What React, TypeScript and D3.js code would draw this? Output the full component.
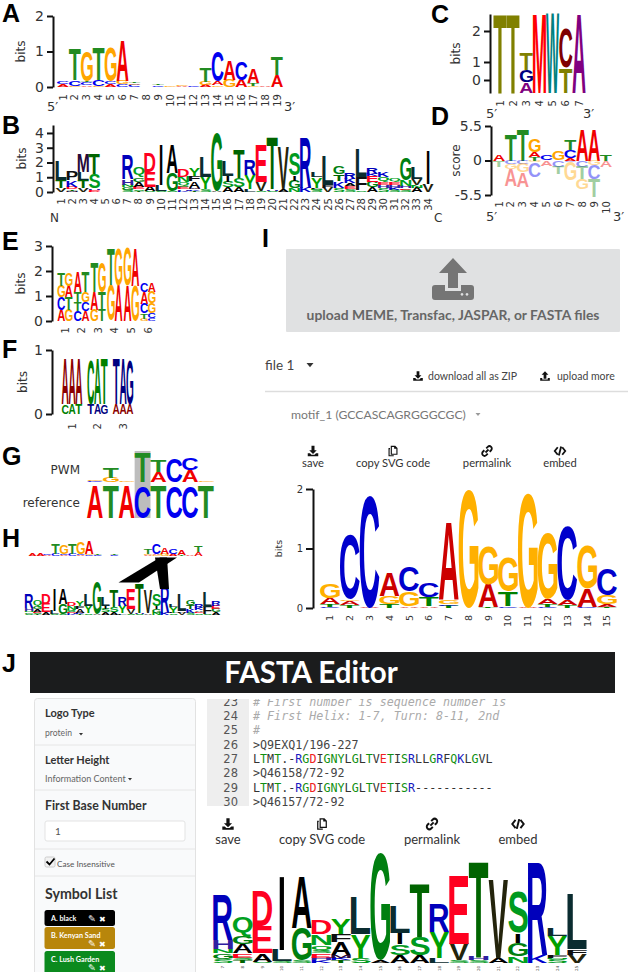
import React, { useEffect, useRef } from 'react';
import * as d3 from 'd3';

// stacks are written bottom to top as "symbol:height"
const logoA = ['A:.07 C:.07', 'G:.04 C:.16 T:.87', 'A:.05 C:.08 T:.03 G:.84', 'G:.03 C:.17 T:.92', 'A:.08 C:.07 G:.97', 'C:.07 G:.09 A:1.12', 'C:.06 G:.04 T:.05', '', 'C:.05 T:.05', 'G:.03', 'A:.03 G:.03', 'C:.02', 'A:.06 G:.09 T:.4', 'G:.05 A:.12 C:.86', 'G:.2 A:.55', 'A:.2 C:.5', 'G:.04 T:.07 A:.39', 'A:.05', 'A:.33 T:.5'];
const logoB = ['V:.25 T:.55 L:1.3', 'M:.1 T:.12 D:.13 K:.45 P:.65', 'V:.25 T:.55 L:.55 M:1.25', 'D:.1 E:.05 H:.1 S:1.0 T:1.4', '', '', 'S:.15 G:.2 N:.15 H:.35 R:1.65', 'T:.1 S:.1 E:.15 A:.35 G:.3 Q:.7', 'S:.05 A:.3 E:1.0 D:1.25', 'S:.08 L:.4 I:2.7', 'S:.08 G:1.2 A:1.9', 'K:.1 H:.1 E:.15 S:.1 Q:.2 N:.4 D:.5', 'T:.1 K:.1 M:.1 A:.47 F:.3 Y:.55', 'S:.2 Y:.85 L:1.35', 'A:.1 G:3.9', 'A:.3 S:.4 I:.4 L:1.0', 'A:.3 S:.65 T:1.95', 'L:.2 Y:.95 R:1.05', 'S:.1 V:.6 E:2.5', 'S:.1 H:.12 T:3.55', 'A:.2 V:2.85', 'N:.25 G:.5 I:.35 S:1.5', 'K:.3 R:3.4', 'S:.15 N:.05 F:.1 Y:.7 L:.3', 'V:.3 F:.2 L:2.0', 'S:.3 K:.45 T:.45 G:.55', 'S:.2 E:.2 A:.2 K:.3 R:.4', 'S:.1 F:.9 L:1.9', 'A:.3 G:.4 E:.4 K:.15 R:.45', 'S:.3 H:.2 E:.2 Q:.3 K:.35', 'S:.15 K:.15 H:.2 E:.2 Q:.2', 'S:.15 E:.1 H:.15 N:.4 G:1.5', 'A:.3 N:.15 V:.45 L:.8', 'V:.55 I:2.25'];
const logoC = ['T:3.3', 'T:3.3', 'A:.45 G:.5 T:.7', 'M:3.3', 'W:3.3', 'T:1.05 C:1.65', 'A:3.3'];
const logoDUp = ['A:1.0', 'T:4.2', 'T:5', 'T:.5 A:.9 G:2', 'C:.9', 'G:1.4', 'A:.4 C:1.3 T:1.7', 'A:5', 'A:5', 'T:1.0'];
const logoDDown = ['T:1.1', 'C:.6 G:.8 A:2.6', 'C:.5 G:1.4 A:2.3', 'G:.3 C:2.3', 'A:.9', 'C:1.0 T:1.2', 'C:.2 G:2.9', 'C:1.0 T:2.0 G:1.6', 'G:.8 C:2.2 T:2.8', 'A:1.1'];
const logoE = ['AG:.45 CT:.5 GA:.45 TG:.5', 'CA:.4 TC:.35 TG:.4 AT:.85', 'GT:.45 AT:.7 TG:1.2', 'GA:1.43 TG:1.47', 'AG:1.4 GA:1.5', 'GC:.1 TC:.2 CG:.4 AG:.45 CA:.35'];
const logoF = ['CAT:.15 AAA:.7', 'TAG:.15 CAT:.7', 'AAA:.15 TAG:.7'];
const logoPwm = ['C:.03 G:.03', 'G:.14 T:.33', 'G:.03', 'T:.95', 'A:.3 T:.37', 'C:.74', 'A:.37 C:.37', 'G:.03'];
const logoRef = ['A', 'T', 'A', 'C', 'T', 'C', 'C', 'T'];
const logoI = ['C:.02 T:.04 A:.11 G:.25', 'T:.05 A:.07 G:.03 C:1.09', 'A:.01 C:1.89', 'T:.07 G:.13 A:.38', 'A:.03 G:.25 C:.42', 'A:.03 T:.15 C:.25', 'T:.03 C:.03 G:.07 A:1.3', 'G:2.0', 'T:.01 A:.39 G:.63', 'C:.03 T:.24 G:.58', 'A:.01 G:1.92', 'C:.02 T:.05 A:.08 G:1.11', 'T:.05 A:.09 C:1.24', 'C:.01 A:.31 G:.74', 'T:.02 A:.04 G:.16 C:.44'];
const extraH = ['A:.25', 'A:.25'];

const numbers = (n: number, from = 1) => d3.range(from, from + n).map(String);

const commentLines = ['# First number is sequence number is', '# First Helix: 1-7, Turn: 8-11, 2nd', '#'];
const headerLines = ['>Q9EXQ1/196-227', '>Q46158/72-92', '>Q46157/72-92'];
const seqLines = ['LTMT.-RGDIGNYLGLTVETISRLLGRFQKLGVL', 'LTMT.-RGDIGNYLGLTVETISR-----------'];
const uiIcons = ['save', 'copy SVG code', 'permalink', 'embed'];
const symbolList = ['A. black', 'B. Kenyan Sand', 'C. Lush Garden'];

const dna: Record<string, string> = { A: '#f00000', C: '#0000f0', G: '#ffa500', T: '#228b22' };
const iColors: Record<string, string> = { A: '#cc0000', C: '#0000cc', G: '#ffb000', T: '#008000' };
const cColors: Record<string, string> = { T: '#808000', A: '#800080', G: '#000080', M: '#ff0000', W: '#008080', C: '#800000' };
const fColors: Record<string, string> = { AAA: '#8b0000', CAT: '#008000', TAG: '#000080' };
const protein: Record<string, string> = {
  A: '#000000', I: '#000000', L: '#0a2c30', V: '#24240c', M: '#280a3a', F: '#101010', P: '#101010', T: '#006400',
  G: '#007f10', S: '#009a1e', N: '#00a020', Q: '#00a020', Y: '#00a000', R: '#0000bb', K: '#0000cc', H: '#3020a0',
  D: '#ff0020', E: '#ff0020', C: '#008000', W: '#000000',
};

const ctx = document.createElement('canvas').getContext('2d')!;
const LOGO_FONT = 'Liberation Sans';
const TEXT_FONT = 'DejaVu Sans';
const UI_FONT = 'Lato';

type Sel = d3.Selection<any, unknown, null, undefined>;

const parseStack = (s: string) =>
  s.split(' ').filter(Boolean).map(p => {
    const [sym, h] = p.split(':');
    return { sym, h: +h };
  });

// puts one glyph into a box by using its ink bounds
function glyph(g: Sel, ch: string, x: number, y: number, w: number, h: number, fill: string, opacity = 1) {
  if (h <= 0 || w <= 0) return;
  ctx.font = `bold 100px "${LOGO_FONT}"`;
  const m = ctx.measureText(ch);
  const left = -m.actualBoundingBoxLeft;
  const inkW = m.actualBoundingBoxRight + m.actualBoundingBoxLeft;
  const inkH = m.actualBoundingBoxAscent + m.actualBoundingBoxDescent;
  // an I is only a bar, so it must not fill the whole column
  const bw = ch === 'I' ? w * 0.24 : w;
  const bx = x + (w - bw) / 2;
  g.append('text')
    .attr('transform', `translate(${bx},${y}) scale(${bw / inkW},${h / inkH}) translate(${-left},${m.actualBoundingBoxAscent})`)
    .attr('font-family', LOGO_FONT)
    .attr('font-weight', 'bold')
    .attr('font-size', 100)
    .attr('fill', fill)
    .attr('opacity', opacity)
    .text(ch);
}

function drawStacks(
  g: Sel,
  stacks: string[],
  keys: string[],
  x: d3.ScaleBand<string>,
  y: d3.ScaleLinear<number, number>,
  colors: Record<string, string>,
  opts: { frac?: number; sign?: number; opacity?: number } = {}
) {
  const { frac = 1, sign = 1, opacity = 1 } = opts;
  stacks.forEach((s, i) => {
    let acc = 0;
    const bw = x.bandwidth() * frac;
    const left = (x(keys[i]) ?? 0) + (x.bandwidth() - bw) / 2;
    parseStack(s).forEach(({ sym, h }) => {
      const a = y(sign * acc);
      const b = y(sign * (acc + h));
      const cw = bw / sym.length;
      sym.split('').forEach((c, k) => {
        glyph(g, c, left + k * cw, Math.min(a, b), cw, Math.abs(a - b), colors[sym] ?? colors[c], opacity);
      });
      acc += h;
    });
  });
}

function label(g: Sel, t: string, x: number, y: number, o: any = {}) {
  return g.append('text')
    .attr('x', x)
    .attr('y', y)
    .attr('font-family', o.family ?? TEXT_FONT)
    .attr('font-size', o.size ?? 12)
    .attr('font-weight', o.weight ?? 'normal')
    .attr('font-style', o.italic ? 'italic' : 'normal')
    .attr('text-anchor', o.anchor ?? 'start')
    .attr('fill', o.fill ?? '#333')
    .text(t);
}

function yAxis(g: Sel, y: d3.ScaleLinear<number, number>, axisX: number, ticks: number[], name: string, nameX: number, o: any = {}) {
  const ax = g.append('g').attr('transform', `translate(${axisX},0)`)
    .call(d3.axisLeft(y).tickValues(ticks).tickFormat(o.format ?? (d3.format('d') as any)).tickSize(o.tick ?? 6).tickSizeOuter(0));
  ax.select('.domain').attr('stroke', '#111').attr('stroke-width', 2);
  ax.selectAll('line').attr('stroke', '#111').attr('stroke-width', 2);
  ax.selectAll('text').attr('font-family', TEXT_FONT).attr('font-size', o.size ?? 14).attr('fill', '#333');
  const [lo, hi] = d3.extent(y.range()) as [number, number];
  const cy = (lo + hi) / 2;
  label(g, name, nameX, cy, { size: o.nameSize ?? 12, anchor: 'middle' })
    .attr('transform', `rotate(-90,${nameX},${cy})`);
}

function xTicks(g: Sel, x: d3.ScaleBand<string>, top: number, size = 10) {
  x.domain().forEach(k => {
    const cx = (x(k) ?? 0) + x.bandwidth() / 2;
    label(g, k, cx + size * 0.36, top, { size, anchor: 'end', fill: '#333' })
      .attr('transform', `rotate(-90,${cx + size * 0.36},${top})`);
  });
}

const band = (keys: string[], first: number, last: number) => {
  const step = (last - first) / (keys.length - 1);
  return d3.scaleBand<string>().domain(keys).range([first - step / 2, last + step / 2]);
};

const ICONS: Record<string, string> = {
  save: 'M6 1h4v6h3l-5 5-5-5h3z M1 11h3l2 2h4l2-2h3v4H1z',
  up: 'M8 1l5 5h-3v6H6V6H3z M1 11h3v2h8v-2h3v4H1z',
  copy: 'M5 1h6l3 3v9H5z M6.5 2.5v9h6V5h-3V2.5z M2 4h2v1.5H3.5v8H9V15H2z',
  link: 'M6 10l4-4 M7 4.5l2-2a3 3 0 0 1 4.5 4.5l-2 2 M9 11.5l-2 2a3 3 0 0 1-4.5-4.5l2-2',
  code: 'M5 3L1 8l4 5 M11 3l4 5-4 5 M9.5 2l-3 12',
};

function icon(g: Sel, name: string, cx: number, cy: number, size: number, fill = '#111') {
  const s = size / 16;
  const p = g.append('path')
    .attr('transform', `translate(${cx - size / 2},${cy - size / 2}) scale(${s})`)
    .attr('d', ICONS[name]);
  if (name === 'link' || name === 'code') {
    p.attr('fill', 'none').attr('stroke', fill).attr('stroke-width', 2.4);
  } else {
    p.attr('fill', fill).attr('fill-rule', 'evenodd');
  }
}

function caret(g: Sel, x: number, y: number, w: number, fill = '#333') {
  g.append('path').attr('d', `M${x - w / 2} ${y}h${w}l${-w / 2} ${w * 0.6}z`).attr('fill', fill);
}

function iconRow(g: Sel, centers: number[], iconY: number, textY: number, iconSize: number, size: number) {
  const names = ['save', 'copy', 'link', 'code'];
  uiIcons.forEach((t, i) => {
    icon(g, names[i], centers[i], iconY, iconSize);
    label(g, t, centers[i], textY, { size, anchor: 'middle', family: UI_FONT });
  });
}

const App: React.FC = () => {
  const svgRef = useRef<SVGSVGElement>(null);

  useEffect(() => {
    if (!svgRef.current) return;
    const svg = d3.select(svgRef.current);
    svg.selectAll('*').remove();
    const g: Sel = svg.append('g');

    // panel tags
    const tags: [string, number, number][] = [['A', 2, 22], ['B', 2, 134], ['C', 431, 23], ['D', 431, 125], ['E', 2, 250], ['F', 2, 358], ['G', 2, 465], ['H', 2, 547], ['I', 262, 247], ['J', 2, 672]];
    tags.forEach(([t, x, y]) => label(g, t, x, y, { size: 25, weight: 'bold', family: 'Liberation Sans', fill: '#000' }));

    // A
    const aKeys = numbers(19);
    const ax = band(aKeys, 63, 277);
    const ay = d3.scaleLinear().domain([0, 2]).range([87, 16]);
    yAxis(g, ay, 53, [0, 1, 2], 'bits', 25);
    drawStacks(g, logoA, aKeys, ax, ay, dna);
    xTicks(g, ax, 94);
    label(g, '5′', 47, 111, { size: 13 });
    label(g, '3′', 284, 111, { size: 13 });

    // B
    const bKeys = numbers(34);
    const bx = band(bKeys, 61, 428);
    const by = d3.scaleLinear().domain([0, 4.54]).range([192, 125]);
    yAxis(g, by, 53, [0, 1, 2, 3, 4], 'bits', 26);
    drawStacks(g, logoB, bKeys, bx, by, protein);
    xTicks(g, bx, 198);
    label(g, 'N', 50, 222, { size: 12 });
    label(g, 'C', 434, 222, { size: 12 });

    // C, the ticks are not evenly spaced in the original
    const cKeys = numbers(7);
    const cx = band(cKeys, 500, 579);
    const cy = d3.scaleLinear().domain([-0.72, 0, 1, 2, 2.58]).range([93, 80, 62, 31, 14]);
    yAxis(g, cy, 490, [0, 1, 2], 'bits', 460);
    const cyStack = d3.scaleLinear().domain([0, 3.3]).range([93, 14]);
    drawStacks(g, logoC, cKeys, cx, cyStack, cColors);
    xTicks(g, cx, 100);
    label(g, '5′', 486, 118, { size: 13 });
    label(g, '3′', 583, 118, { size: 13 });

    // D
    const dKeys = numbers(10);
    const dx = band(dKeys, 499, 606);
    const dy = d3.scaleLinear().domain([-5.5, 5.5]).range([195, 126]);
    yAxis(g, dy, 491, [-5.5, 0, 5.5], 'score', 460, { format: (v: number) => String(v) });
    drawStacks(g, logoDUp, dKeys, dx, dy, dna);
    drawStacks(g, logoDDown, dKeys, dx, dy, dna, { sign: -1, opacity: 0.42 });
    xTicks(g, dx, 201);
    label(g, '5′', 486, 221, { size: 13 });
    label(g, '3′', 613, 221, { size: 13 });

    // E
    const eKeys = numbers(6);
    const ex = band(eKeys, 65, 148);
    const ey = d3.scaleLinear().domain([0, 3]).range([321, 246]);
    yAxis(g, ey, 52, [0, 1, 2, 3], 'bits', 25);
    drawStacks(g, logoE, eKeys, ex, ey, dna, { frac: 0.92 });
    xTicks(g, ex, 327);

    // F
    const fKeys = numbers(3);
    const fx = band(fKeys, 72, 123);
    const fy = d3.scaleLinear().domain([0, 1]).range([414, 350]);
    yAxis(g, fy, 52, [0, 1], 'bits', 27);
    drawStacks(g, logoF, fKeys, fx, fy, fColors, { frac: 0.8 });
    xTicks(g, fx, 423);

    // G
    const gKeys = numbers(8);
    const gx = band(gKeys, 95, 206);
    g.append('rect').attr('x', gx('4')!).attr('y', 451).attr('width', gx.bandwidth()).attr('height', 67).attr('fill', '#bdbdbd');
    const gyTop = d3.scaleLinear().domain([0, 1]).range([482, 450]);
    const gyRef = d3.scaleLinear().domain([0, 1]).range([518, 486]);
    drawStacks(g, logoPwm, gKeys, gx, gyTop, dna);
    drawStacks(g, logoRef.map(c => `${c}:1`), gKeys, gx, gyRef, dna);
    label(g, 'PWM', 80, 474, { size: 12, anchor: 'end' });
    label(g, 'reference', 80, 507, { size: 12, anchor: 'end' });

    // H, re-uses the logos from A and B
    const hTopY = d3.scaleLinear().domain([0, 1.3]).range([556, 541]);
    const hTopX = d3.scaleBand<string>().domain(aKeys).range([43, 43 + 19 * 8.4]);
    const hExtra = d3.scaleBand<string>().domain(['x0', 'x1']).range([28.5, 44.5]);
    drawStacks(g, extraH, hExtra.domain(), hExtra, hTopY, dna);
    drawStacks(g, logoA, aKeys, hTopX, hTopY, dna);
    const hBotKeys = d3.range(7, 30).map(String);
    const hBot = band(hBotKeys, 29, 216);
    const hBotY = d3.scaleLinear().domain([0, 4]).range([615, 582]);
    drawStacks(g, logoB.slice(6, 29), hBotKeys, hBot, hBotY, protein);
    ['M118.5 582.5 L139 582.5 L177 557.5 L160 557.5 Z', 'M155 557.5 L167 557.5 L169 589 L160 589 Z'].forEach(d =>
      g.append('path').attr('d', d).attr('fill', '#000'));

    // I
    g.append('rect').attr('x', 286).attr('y', 249).attr('width', 334).attr('height', 83).attr('fill', '#e0e1e2').attr('rx', 1);
    g.append('path')
      .attr('transform', 'translate(432,258)')
      .attr('fill', '#757575')
      .attr('fill-rule', 'evenodd')
      .attr('d', 'M21 0 L35 15 H26 V30 H16 V15 H7 Z M0 30 Q0 27 3 27 H13 V33 H29 V27 H39 Q42 27 42 30 V39 Q42 42 39 42 H3 Q0 42 0 39 Z M30 35 a1.4 1.4 0 1 0 .01 0 M35 35 a1.4 1.4 0 1 0 .01 0');
    label(g, 'upload MEME, Transfac, JASPAR, or FASTA files', 453, 320, { size: 13.85, anchor: 'middle', family: UI_FONT, fill: '#666', weight: 'bold' });
    label(g, 'file 1', 265, 370, { size: 13.5, family: UI_FONT, fill: '#444' });
    caret(g, 310, 363, 7);
    icon(g, 'save', 418, 376, 11);
    label(g, 'download all as ZIP', 428, 380, { size: 10.5, family: UI_FONT, fill: '#444' });
    icon(g, 'up', 545, 376, 11);
    label(g, 'upload more', 557, 380, { size: 10.5, family: UI_FONT, fill: '#444' });
    g.append('line').attr('x1', 265).attr('x2', 628).attr('y1', 391.5).attr('y2', 391.5).attr('stroke', '#ddd').attr('stroke-width', 1.5);
    label(g, 'motif_1 (GCCASCAGRGGGCGC)', 291, 419, { size: 12.2, family: UI_FONT, fill: '#777' });
    caret(g, 478, 413, 5, '#999');
    iconRow(g, [313, 393, 487, 560], 451, 467, 12, 11.2);

    const iKeys = numbers(15);
    const ix = band(iKeys, 330, 607);
    const iy = d3.scaleLinear().domain([0, 2]).range([608, 489]);
    yAxis(g, iy, 313, [0, 1, 2], 'bits', 282, { size: 10, nameSize: 9.5, tick: 7 });
    drawStacks(g, logoI, iKeys, ix, iy, iColors);
    xTicks(g, ix, 615, 9.5);

    // J
    g.append('rect').attr('x', 30).attr('y', 652).attr('width', 585).attr('height', 41).attr('fill', '#1b1c1d');
    label(g, 'FASTA Editor', 311, 683, { size: 29.5, weight: 'bold', family: UI_FONT, fill: '#fff', anchor: 'middle' });

    g.append('rect').attr('x', 34.5).attr('y', 698.5).attr('width', 161).attr('height', 290).attr('rx', 3).attr('fill', '#f9fafb').attr('stroke', '#e2e2e2');
    [745, 790, 849, 876].forEach(y => g.append('line').attr('x1', 35).attr('x2', 195).attr('y1', y).attr('y2', y).attr('stroke', '#e6e6e6'));
    label(g, 'Logo Type', 45, 717, { size: 11, weight: 'bold', family: UI_FONT, fill: '#333' });
    label(g, 'protein', 45, 736, { size: 8.6, family: UI_FONT, fill: '#666' });
    caret(g, 81, 733, 4);
    label(g, 'Letter Height', 45, 764, { size: 11, weight: 'bold', family: UI_FONT, fill: '#333' });
    label(g, 'Information Content', 45, 782, { size: 9, family: UI_FONT, fill: '#666' });
    caret(g, 130, 778, 4);
    label(g, 'First Base Number', 45, 810, { size: 12.3, weight: 'bold', family: UI_FONT, fill: '#333' });
    g.append('rect').attr('x', 45).attr('y', 821).attr('width', 140).attr('height', 20).attr('rx', 2).attr('fill', '#fff').attr('stroke', '#e3e3e3');
    label(g, '1', 55, 835, { size: 10, family: UI_FONT, fill: '#555' });
    g.append('rect').attr('x', 45).attr('y', 857).attr('width', 10).attr('height', 10).attr('rx', 1.5).attr('fill', '#f2f2f2').attr('stroke', '#ccc');
    g.append('path').attr('d', 'M46.5 861.5l3 3 5-6').attr('fill', 'none').attr('stroke', '#000').attr('stroke-width', 1.8);
    label(g, 'Case Insensitive', 57, 867, { size: 8.2, family: UI_FONT, fill: '#555' });
    label(g, 'Symbol List', 45, 899, { size: 14.2, weight: 'bold', family: UI_FONT, fill: '#333' });

    const pills = [{ y: 910, h: 16, c: '#000' }, { y: 927, h: 22, c: '#b8860b' }, { y: 951, h: 25, c: '#0b8a1e' }];
    pills.forEach((p, i) => {
      g.append('rect').attr('x', 44.5).attr('y', p.y).attr('width', 70.5).attr('height', p.h).attr('rx', 2.5).attr('fill', p.c);
      label(g, symbolList[i], 51, p.y + 11, { size: 7.2, weight: 'bold', family: UI_FONT, fill: '#fff' });
      const iy0 = i === 0 ? p.y + 8 : p.y + 16;
      label(g, '✎', 88, iy0 + 3.5, { size: 9.5, fill: '#fff' });
      label(g, '✖', 99, iy0 + 3.5, { size: 8, fill: '#fff' });
    });

    // editor, the first row is cut by the scroll area
    svg.append('clipPath').attr('id', 'editor-clip').append('rect').attr('x', 200).attr('y', 699).attr('width', 432).attr('height', 110);
    const ed: Sel = g.append('g').attr('clip-path', 'url(#editor-clip)');
    ed.append('rect').attr('x', 207).attr('y', 699).attr('width', 42).attr('height', 107).attr('fill', '#eeeeee');
    const rowY = (n: number) => 705.5 + (n - 23) * 14.35;
    d3.range(23, 31).forEach(n => label(ed, String(n), 238, rowY(n), { size: 11.5, anchor: 'end', family: TEXT_FONT, fill: '#555' }));
    commentLines.forEach((t, i) => label(ed, t, 253, rowY(23 + i), { size: 11.7, family: 'DejaVu Sans Mono', fill: '#aaa', italic: true }));
    headerLines.forEach((t, i) => label(ed, t, 253, rowY(26 + i * 2), { size: 11.7, family: 'DejaVu Sans Mono', fill: '#444' }));
    seqLines.forEach((t, i) => {
      const row = label(ed, '', 253, rowY(27 + i * 2), { size: 11.7, family: 'DejaVu Sans Mono' });
      t.split('').forEach(c => {
        row.append('tspan')
          .attr('fill', /[RK]/.test(c) ? '#1a1ac0' : /[DE]/.test(c) ? '#f02020' : /[GNQSTY]/.test(c) ? '#109010' : '#333')
          .text(c);
      });
    });

    iconRow(g, [228, 322, 432, 518], 824, 844, 13, 13);

    const jKeys = d3.range(7, 26).map(String);
    const jx = band(jKeys, 223, 577);
    const jy = d3.scaleLinear().domain([0, 4]).range([963, 854]);
    drawStacks(g, logoB.slice(6, 25), jKeys, jx, jy, protein);
    xTicks(g, jx, 966, 4);
  }, []);

  return (
    <svg
      ref={svgRef}
      width={632}
      height={972}
      style={{ position: 'absolute', left: 0, top: 0, background: '#fff', display: 'block' }}
    />
  );
};

export default App;
